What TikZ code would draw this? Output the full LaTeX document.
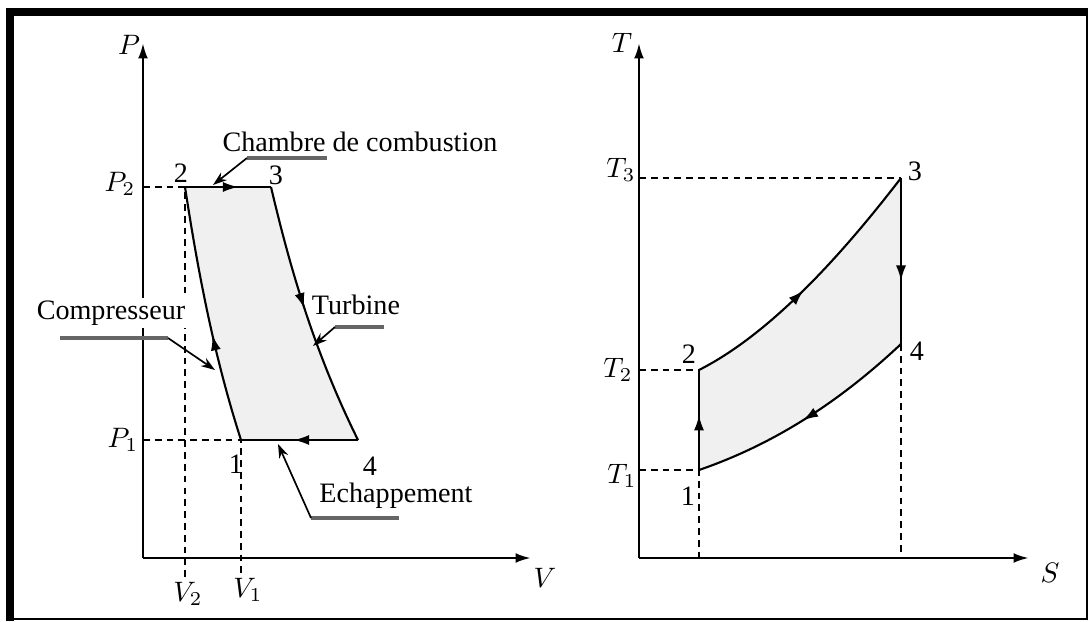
\documentclass[tikz,border=0pt]{standalone}
\usepackage{fontspec}
\setmainfont{Liberation Serif}
\usetikzlibrary{arrows.meta, decorations.markings}
\tikzset{
  axis/.style={
    -{Latex[length=5.5pt,width=3.5pt]},
    line width=0.9pt
  },
  guide/.style={
    dash pattern=on 2.4pt off 1.8pt,
    line width=0.8pt
  },
  cycle line/.style={
    line width=0.75pt
  },
  cycle fill/.style={
    fill=gray!12
  },
  flow arrow/.style={
    postaction={decorate},
    decoration={markings,
      mark=at position #1 with {\arrow{Latex[length=5.5pt,width=3.6pt]}}}
  },
  leader bar/.style={
    draw=black!60,
    line width=1.3pt
  },
  leader/.style={
    -{Stealth[length=5pt,width=3.4pt]},
    line width=0.6pt
  },
  tag/.style={
    inner sep=0.5pt
  },
  note/.style={
    fill=white,
    inner sep=1pt
  }
}

\begin{document}
\begin{tikzpicture}[x=0.0125cm, y=-0.0125cm]
  \useasboundingbox (0,0) rectangle (1089,622);

  % cadre
  \fill (6,8) rectangle (1088,16);
  \fill (6,8) rectangle (14,621);
  \draw[line width=0.7pt] (14,619) -- (1087,619) -- (1087,16);

  % ================= diagramme P-V =================
  \coordinate (O1) at (143,558);
  \coordinate (A1) at (241,440);
  \coordinate (A2) at (185,187);
  \coordinate (A3) at (271,187);
  \coordinate (A4) at (358,440);
  \coordinate (P2axe) at (143,187);
  \coordinate (P1axe) at (143,440);
  \coordinate (V2bas) at (185,578);
  \coordinate (V1bas) at (241,578);

  % aire du cycle
  \fill[cycle fill] (A2) -- (A3) .. controls (291,272) and (315,353) .. (A4)
    -- (A1) .. controls (214,356) and (198,272) .. (A2) -- cycle;

  % pointilles
  \draw[guide] (P2axe) -- (A2) -- (V2bas);
  \draw[guide] (P1axe) -- (A1) -- (V1bas);

  % axes
  \draw[axis] (O1) -- (143,43);
  \draw[axis] (O1) -- (531,558);

  % cycle
  \draw[cycle line, flow arrow=0.62] (A2) -- (A3);
  \draw[cycle line, flow arrow=0.47] (A3) .. controls (291,272) and (315,353) .. (A4);
  \draw[cycle line, flow arrow=0.55] (A4) -- (A1);
  \draw[cycle line, flow arrow=0.42] (A1) .. controls (214,356) and (198,272) .. (A2);

  % textes des axes
  \node[tag] (lP)  at (129,45)  {$P$};
  \node[tag] (lV)  at (545,578) {$V$};
  \node[tag] (lP2) at (120,184) {$P_2$};
  \node[tag] (lP1) at (123,440) {$P_1$};
  \node[tag] (lV2) at (188,594) {$V_2$};
  \node[tag] (lV1) at (248,590) {$V_1$};
  \node[tag] (n2)  at (181,173) {2};
  \node[tag] (n3)  at (276,175) {3};
  \node[tag] (n1)  at (236,464) {1};
  \node[tag] (n4)  at (370,466) {4};

  % legendes
  \node[note] (chambre) at (360,142) {Chambre de combustion};
  \coordinate (ch1) at (327,158);
  \coordinate (ch2) at (247,158);
  \coordinate (ch3) at (213,185);
  \draw[leader bar] (ch1) -- (ch2);
  \draw[leader] (ch2) -- (ch3);

  \node[note] (turbine) at (356,305) {Turbine};
  \coordinate (tu1) at (384,327);
  \coordinate (tu2) at (335,327);
  \coordinate (tu3) at (313,346);
  \draw[leader bar] (tu1) -- (tu2);
  \draw[leader] (tu2) -- (tu3);

  \node[note] (compresseur) at (111,313) {Compresseur};
  \coordinate (co1) at (60,338);
  \coordinate (co2) at (168,338);
  \coordinate (co3) at (215,370);
  \draw[leader bar] (co1) -- (co2);
  \draw[leader] (co2) -- (co3);

  \node[note] (echappement) at (396,496) {Echappement};
  \coordinate (ec1) at (399,518);
  \coordinate (ec2) at (311,518);
  \coordinate (ec3) at (278,444);
  \draw[leader bar] (ec1) -- (ec2);
  \draw[leader] (ec2) -- (ec3);

  % ================= diagramme T-S =================
  \coordinate (O2) at (639,558);
  \coordinate (B1) at (699,470);
  \coordinate (B2) at (699,370);
  \coordinate (B3) at (901,178);
  \coordinate (B4) at (901,344);
  \coordinate (T3axe) at (639,178);
  \coordinate (T2axe) at (639,370);
  \coordinate (T1axe) at (639,470);
  \coordinate (S1bas) at (699,558);
  \coordinate (S4bas) at (901,558);

  % aire du cycle
  \fill[cycle fill] (B1) -- (B2) .. controls (766,336) and (834,265) .. (B3)
    -- (B4) .. controls (833,408) and (766,447) .. (B1) -- cycle;

  % pointilles
  \draw[guide] (T3axe) -- (B3);
  \draw[guide] (T2axe) -- (B2);
  \draw[guide] (T1axe) -- (B1) -- (S1bas);
  \draw[guide] (B4) -- (S4bas);

  % axes
  \draw[axis] (O2) -- (639,43);
  \draw[axis] (O2) -- (1029,558);

  % cycle
  \draw[cycle line, flow arrow=0.55] (B1) -- (B2);
  \draw[cycle line, flow arrow=0.47] (B2) .. controls (766,336) and (834,265) .. (B3);
  \draw[cycle line, flow arrow=0.62] (B3) -- (B4);
  \draw[cycle line, flow arrow=0.52] (B4) .. controls (833,408) and (766,447) .. (B1);

  % textes des axes
  \node[tag] (lT)  at (622,43)  {$T$};
  \node[tag] (lS)  at (1050,573) {$S$};
  \node[tag] (lT3) at (621,170) {$T_3$};
  \node[tag] (lT2) at (618,370) {$T_2$};
  \node[tag] (lT1) at (622,476) {$T_1$};
  \node[tag] (m3)  at (915,171) {3};
  \node[tag] (m2)  at (689,354) {2};
  \node[tag] (m4)  at (917,351) {4};
  \node[tag] (m1)  at (688,496) {1};
\end{tikzpicture}
\end{document}
